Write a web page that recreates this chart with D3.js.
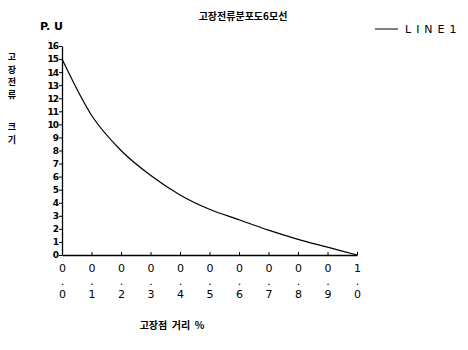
<!DOCTYPE html>
<html><head><meta charset="utf-8">
<script src="https://cdn.jsdelivr.net/npm/d3@7"></script>
<style>
body{margin:0;background:#fff;}
svg{display:block;}
text{fill:#000;}
</style></head>
<body>
<svg id="c" width="468" height="350"></svg>
<script>
const title = "고장전류분포도6모선";
const yUnit = "P. U";
const yLabelTop = ["고","장","전","류"];
const yLabelBottom = ["크","기"];
const xTitle = "고장점  거리  %";
const seriesName = "LINE1";
const xValues = [0,0.1,0.2,0.3,0.4,0.5,0.6,0.7,0.8,0.9,1.0];
const yValues = [15,10.7,8.0,6.1,4.6,3.5,2.7,1.9,1.2,0.6,0];
const xTicks = [0,0.1,0.2,0.3,0.4,0.5,0.6,0.7,0.8,0.9,1.0];
const yTicks = [0,1,2,3,4,5,6,7,8,9,10,11,12,13,14,15,16];

const svg = d3.select("#c");
const kr = "'Noto Sans CJK KR', sans-serif";
const lat = "'DejaVu Sans', sans-serif";
const x = d3.scaleLinear().domain([0,1]).range([62,357]);
const y = d3.scaleLinear().domain([0,16]).range([255,46]);

// title
svg.append("text").attr("x",243).attr("y",20).attr("text-anchor","middle")
  .attr("font-family",kr).attr("font-size",10).attr("font-weight","bold").text(title);
// PU
svg.append("text").attr("x",40).attr("y",30).attr("font-family",lat).attr("font-size",11)
  .attr("font-weight","bold").text(yUnit);
// vertical y label
yLabelTop.forEach((c,i)=>svg.append("text").attr("x",12).attr("y",60+i*12.5).attr("text-anchor","middle")
  .attr("font-family",kr).attr("font-size",9).attr("font-weight","bold").text(c));
yLabelBottom.forEach((c,i)=>svg.append("text").attr("x",12).attr("y",130+i*13).attr("text-anchor","middle")
  .attr("font-family",kr).attr("font-size",9).attr("font-weight","bold").text(c));

// y axis
const ya = svg.append("g").attr("transform","translate(62,0)")
  .call(d3.axisLeft(y).tickValues(yTicks).tickSize(3).tickSizeOuter(0).tickPadding(1));
ya.select(".domain").attr("stroke","#000").attr("stroke-width",1.3);
ya.selectAll(".tick line").attr("stroke","#000");
ya.selectAll(".tick text").attr("font-family",lat).attr("font-size",9).attr("font-weight","bold")
  .attr("letter-spacing","-1px");

// x axis
const xa = svg.append("g").attr("transform","translate(0,255)")
  .call(d3.axisBottom(x).tickValues(xTicks).tickSize(-3).tickSizeOuter(0).tickFormat(""));
xa.select(".domain").attr("stroke","#000").attr("stroke-width",1.3);
xa.selectAll(".tick line").attr("stroke","#000");
xa.selectAll(".tick").each(function(d){
  const s = d3.format(".1f")(d).split("");
  const g = d3.select(this);
  const ys = [272,285,298];
  s.forEach((ch,i)=>g.append("text").attr("x",0).attr("y",ys[i]-255).attr("text-anchor","middle")
    .attr("font-family",lat).attr("font-size",11).attr("fill","#000").text(ch));
});

// line
const pts = xValues.map((v,i)=>[v,yValues[i]]);
svg.append("path").datum(pts)
  .attr("d",d3.line().x(d=>x(d[0])).y(d=>y(d[1])).curve(d3.curveMonotoneX))
  .attr("fill","none").attr("stroke","#000").attr("stroke-width",1.2);

// legend
svg.append("line").attr("x1",375).attr("x2",398).attr("y1",29).attr("y2",29).attr("stroke","#000").attr("stroke-width",1);
svg.append("text").attr("x",405).attr("y",33).attr("font-family",lat).attr("font-size",11)
  .attr("letter-spacing","5px").text(seriesName);

// x title
svg.append("text").attr("x",172).attr("y",329).attr("text-anchor","middle")
  .attr("font-family",kr).attr("font-size",10).attr("font-weight","bold")
  .style("white-space","pre").text(xTitle);
</script>
</body></html>
